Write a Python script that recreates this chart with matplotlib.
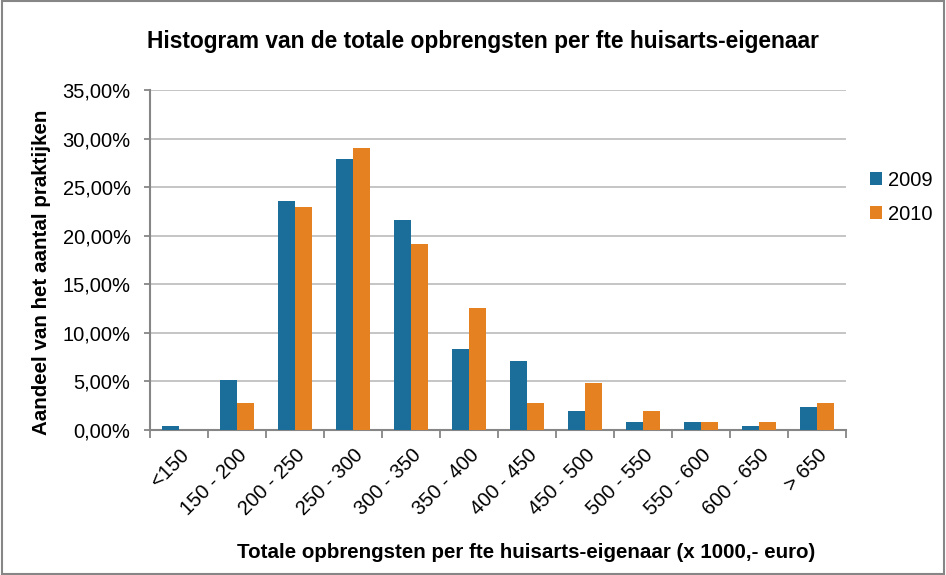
import numpy as np
import matplotlib.pyplot as plt
from matplotlib.patches import Rectangle

plt.rcParams['font.family'] = ['Liberation Sans', 'DejaVu Sans']

categories = ["<150", "150 - 200", "200 - 250", "250 - 300", "300 - 350", "350 - 400",
              "400 - 450", "450 - 500", "500 - 550", "550 - 600", "600 - 650", "> 650"]
y2009 = [0.4, 5.1, 23.6, 27.9, 21.6, 8.3, 7.1, 2.0, 0.8, 0.8, 0.4, 2.4]
y2010 = [0.0, 2.8, 23.0, 29.0, 19.1, 12.6, 2.8, 4.8, 2.0, 0.8, 0.8, 2.8]

c2009 = '#1a6e99'
c2010 = '#e68121'

fig = plt.figure(figsize=(9.46, 5.75), dpi=100)
ax = fig.add_axes([0.1586, 0.2522, 0.7357, 0.5913])

x = np.arange(len(categories))
w = 0.29
ax.bar(x - w / 2, y2009, w, color=c2009, label='2009', zorder=3)
ax.bar(x + w / 2, y2010, w, color=c2010, label='2010', zorder=3)

ax.set_xlim(-0.5, len(categories) - 0.5)
ax.set_ylim(0, 35)
yt = np.arange(0, 36, 5)
ax.set_yticks(yt)
ax.set_yticklabels([("%.2f" % v).replace('.', ',') + '%' for v in yt], fontsize=14.5)
ax.yaxis.grid(True, color='#c0c0c0', linewidth=1.3, zorder=0)

ax.set_xticks(np.arange(-0.5, len(categories), 1.0))
ax.set_xticklabels([])
ax.set_xticks(x, minor=True)
ax.set_xticklabels(categories, minor=True, rotation=45, ha='right', rotation_mode='anchor', fontsize=14.5)
ax.tick_params(axis='x', which='minor', length=0, pad=11)
ax.tick_params(axis='x', which='major', length=6, color='#868686', width=1.3)
ax.tick_params(axis='y', length=4, color='#868686', width=1.3, pad=10)

for s in ['top', 'right']:
    ax.spines[s].set_visible(False)
for s in ['left', 'bottom']:
    ax.spines[s].set_color('#868686')
    ax.spines[s].set_linewidth(1.5)

fig.text(0.556, 0.04, "Totale opbrengsten per fte huisarts-eigenaar (x 1000,- euro)",
         ha='center', va='center', fontsize=14.8, fontweight='bold')
fig.text(0.044, 0.527, "Aandeel van het aantal praktijken", rotation=90,
         ha='center', va='center', fontsize=14.8, fontweight='bold')
fig.text(0.51, 0.927, "Histogram van de totale opbrengsten per fte huisarts-eigenaar",
         ha='center', va='center', fontsize=16.4, fontweight='bold')

fig.legend(loc='upper left', bbox_to_anchor=(0.9, 0.735), frameon=False, fontsize=14.5,
           handlelength=0.6, handleheight=0.6, handletextpad=0.3, labelspacing=0.75)

fig.patches.append(Rectangle((0.002, 0.002), 0.996, 0.996, transform=fig.transFigure,
                             fill=False, edgecolor='#868686', linewidth=1.5))

plt.savefig("out.png", dpi=100)
